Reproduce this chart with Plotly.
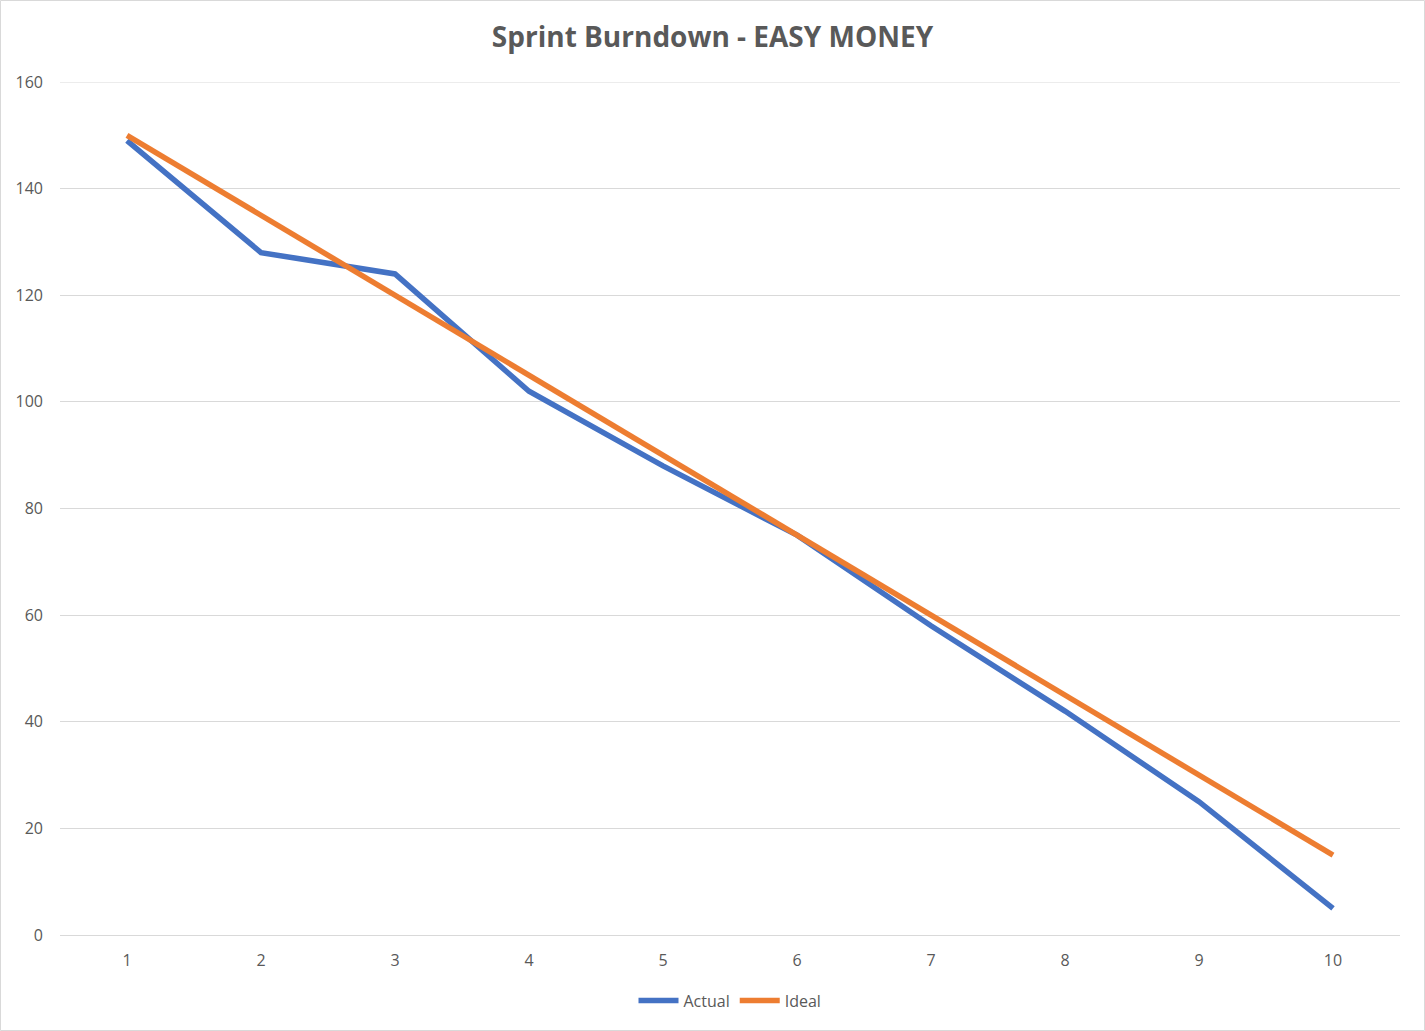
import plotly.graph_objects as go

days = [1, 2, 3, 4, 5, 6, 7, 8, 9, 10]
actual = [149, 128, 124, 102, 88, 75, 58, 42, 25, 5]
ideal = [150, 135, 120, 105, 90, 75, 60, 45, 30, 15]
y_ticks = [0, 20, 40, 60, 80, 100, 120, 140, 160]

fig = go.Figure()
fig.add_trace(go.Scatter(x=days, y=actual, mode="lines", name="Actual",
                         line=dict(color="#4472C4", width=5.5)))
fig.add_trace(go.Scatter(x=days, y=ideal, mode="lines", name="Ideal",
                         line=dict(color="#ED7D31", width=5.5)))

fig.update_layout(
    width=1425, height=1031,
    margin=dict(l=60, r=25, t=82, b=96),
    paper_bgcolor="white", plot_bgcolor="white",
    title=dict(text="<b>Sprint Burndown - EASY MONEY</b>", x=0.5, xanchor="center",
               y=1 - 37 / 1031, yanchor="middle",
               font=dict(family="Open Sans", size=28, color="#595959")),
    font=dict(family="Open Sans", color="#595959", size=16),
    legend=dict(orientation="h", x=0.5, xanchor="center", y=-0.077, yanchor="middle",
                font=dict(size=16, color="#595959"), itemwidth=40, tracegroupgap=0),
    showlegend=True,
)
fig.update_xaxes(range=[0.5, 10.5], tickmode="array", tickvals=days,
                 ticktext=[str(d) for d in days], showgrid=False, zeroline=False,
                 showline=True, linecolor="#D9D9D9", linewidth=1,
                 ticks="", ticklabelstandoff=11, fixedrange=True)
fig.update_yaxes(range=[0, 160], tickmode="array", tickvals=y_ticks,
                 showgrid=True, gridcolor="#D9D9D9", gridwidth=1, zeroline=False,
                 ticks="", ticklabelstandoff=16, fixedrange=True)
fig.add_shape(type="line", xref="paper", yref="y", x0=0, x1=1, y0=y_ticks[-1], y1=y_ticks[-1],
              line=dict(color="#D9D9D9", width=1), layer="below")
fig.add_shape(type="rect", xref="paper", yref="paper",
              x0=-59.5 / 1340, x1=1364.5 / 1340, y0=-95.5 / 853, y1=934.5 / 853,
              line=dict(color="#D9D9D9", width=1), fillcolor="rgba(0,0,0,0)", layer="below")

fig.write_html("out.html")
